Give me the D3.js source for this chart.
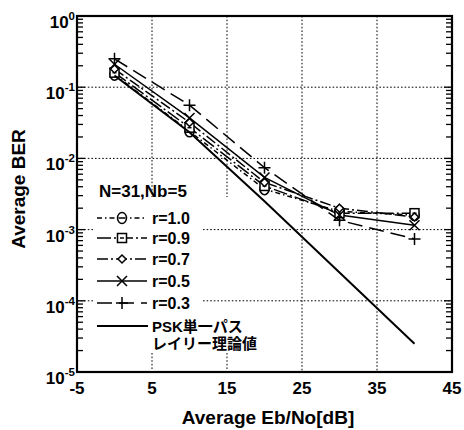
<!DOCTYPE html>
<html>
<head>
<meta charset="utf-8">
<script src="https://cdn.jsdelivr.net/npm/d3@7"></script>
<style>
  html, body { margin: 0; padding: 0; background: #fff; }
  svg { display: block; }
  text { font-family: "Liberation Sans", Arial, "Noto Sans CJK JP", sans-serif; font-weight: bold; fill: #000; }
</style>
</head>
<body>
<svg id="chart" width="464" height="430"></svg>
<script>
// Eb/No sample points [dB]
const ebno = [0, 10, 20, 30, 40];

// Average BER per correlation coefficient r
const ber_r10 = [0.150, 0.024, 0.0037, 0.0018, 0.0016];
const ber_r09 = [0.160, 0.027, 0.0041, 0.0017, 0.0017];
const ber_r07 = [0.180, 0.032, 0.0046, 0.0020, 0.0015];
const ber_r05 = [0.210, 0.037, 0.0054, 0.0016, 0.00115];
const ber_r03 = [0.250, 0.056, 0.0074, 0.00135, 0.00074];

// Single-path Rayleigh PSK theory
const ber_theory = [0.146, 0.0233, 0.0025, 0.00025, 0.000025];

const seriesLabels = ["r=1.0", "r=0.9", "r=0.7", "r=0.5", "r=0.3"];
const theoryLabel = ["PSK単一パス", "レイリー理論値"];
const annotation = "N=31,Nb=5";

const xTicks = [-5, 5, 15, 25, 35, 45];
const yExponents = [0, -1, -2, -3, -4, -5];

const xTitle = "Average Eb/No[dB]";
const yTitle = "Average BER";

// ---- layout ----
const L = 77, R = 452, T = 16, B = 372;
const svg = d3.select("#chart");
const x = d3.scaleLinear().domain([-5, 45]).range([L, R]);
const y = d3.scaleLog().domain([1e-5, 1]).range([B, T]);

// legend block (gridlines are interrupted behind it)
const legX0 = 97, legX1 = 147, legMark = 122, legText = 152;
const legRows = [218, 238, 259, 281, 303];
const legTheoryRow = 326;

// ---- grid ----
const grid = svg.append("g").attr("stroke", "#000").attr("stroke-width", 1)
  .attr("stroke-dasharray", "1.6,2").attr("fill", "none");
[5, 15, 25, 35].forEach(v => {
  const px = x(v);
  const gaps = (v === 5 || v === 15) ? [[T, 197], [353, B]] : [[T, B]];
  gaps.forEach(([a, b]) => grid.append("line").attr("x1", px).attr("x2", px).attr("y1", a).attr("y2", b));
});
[-1, -2, -3, -4].forEach(e => {
  const py = y(Math.pow(10, e));
  const segs = (py > 197 && py < 353) ? [[L, 95], [203, R]] : [[L, R]];
  segs.forEach(([a, b]) => grid.append("line").attr("x1", a).attr("x2", b).attr("y1", py).attr("y2", py));
});

// ---- log minor ticks on left and right axes (inward) ----
const ticks = svg.append("g").attr("stroke", "#000").attr("stroke-width", 1.3);
for (let e = -5; e < 0; e++) {
  for (let k = 1; k <= 9; k++) {
    const v = k * Math.pow(10, e);
    const py = y(v);
    const len = k === 1 ? 8 : 6;
    ticks.append("line").attr("x1", L).attr("x2", L + len).attr("y1", py).attr("y2", py);
    ticks.append("line").attr("x1", R).attr("x2", R - len).attr("y1", py).attr("y2", py);
  }
}

// ---- frame ----
svg.append("rect").attr("x", L).attr("y", T).attr("width", R - L).attr("height", B - T)
  .attr("fill", "none").attr("stroke", "#000").attr("stroke-width", 2.2);

// ---- series ----
const series = [
  { vals: ber_r10, dash: "5,3,1.5,3", marker: "circle" },
  { vals: ber_r09, dash: "14,3,2,3", marker: "square" },
  { vals: ber_r07, dash: "11,3,2,3", marker: "diamond" },
  { vals: ber_r05, dash: null, marker: "x" },
  { vals: ber_r03, dash: "15,7", marker: "plus" }
];

const line = d3.line().x(d => x(d[0])).y(d => y(d[1]));
const plot = svg.append("g");

function drawMarker(g, type, cx, cy) {
  const m = g.append("g").attr("transform", `translate(${cx},${cy})`)
    .attr("stroke", "#000").attr("stroke-width", 1.5).attr("fill", "#fff");
  if (type === "circle") {
    m.append("ellipse").attr("rx", 4.5).attr("ry", 5.5);
    m.append("line").attr("x1", -3.5).attr("x2", 3.5).attr("y1", 0).attr("y2", 0);
  } else if (type === "square") {
    m.append("rect").attr("x", -4.5).attr("y", -4.5).attr("width", 9).attr("height", 9);
    m.append("line").attr("x1", -2).attr("x2", 2).attr("y1", 0).attr("y2", 0);
  } else if (type === "diamond") {
    m.append("path").attr("d", "M0,-4L4,0L0,4L-4,0Z");
  } else if (type === "x") {
    m.append("path").attr("d", "M-5,-5L5,5M-5,5L5,-5").attr("fill", "none");
  } else if (type === "plus") {
    m.append("path").attr("d", "M-6,0L6,0M0,-6L0,6").attr("fill", "none");
  }
}

series.forEach(s => {
  const pts = ebno.map((e, i) => [e, s.vals[i]]);
  plot.append("path").datum(pts).attr("d", line)
    .attr("fill", "none").attr("stroke", "#000").attr("stroke-width", 1.5)
    .attr("stroke-dasharray", s.dash);
});
series.forEach(s => {
  ebno.forEach((e, i) => drawMarker(plot, s.marker, x(e), y(s.vals[i])));
});

// theory curve
plot.append("path").datum(ebno.map((e, i) => [e, ber_theory[i]])).attr("d", line)
  .attr("fill", "none").attr("stroke", "#000").attr("stroke-width", 2);

// ---- legend ----
const leg = svg.append("g");
leg.append("text").attr("x", 99).attr("y", 197).attr("font-size", 17).text(annotation);
series.forEach((s, i) => {
  const ry = legRows[i];
  leg.append("line").attr("x1", legX0).attr("x2", legX1).attr("y1", ry).attr("y2", ry)
    .attr("stroke", "#000").attr("stroke-width", 1.5).attr("stroke-dasharray", s.dash);
  drawMarker(leg, s.marker, legMark, ry);
  leg.append("text").attr("x", legText).attr("y", ry + 6).attr("font-size", 16).text(seriesLabels[i]);
});
leg.append("line").attr("x1", legX0).attr("x2", 148).attr("y1", legTheoryRow).attr("y2", legTheoryRow)
  .attr("stroke", "#000").attr("stroke-width", 2);
leg.append("text").attr("x", legText).attr("y", legTheoryRow + 5.5).attr("font-size", 15).text(theoryLabel[0]);
leg.append("text").attr("x", legText).attr("y", legTheoryRow + 23).attr("font-size", 15).text(theoryLabel[1]);

// ---- axis labels ----
const axis = svg.append("g");
xTicks.forEach(v => {
  axis.append("text").attr("x", x(v)).attr("y", 394).attr("text-anchor", "middle")
    .attr("font-size", 17).text(v);
});
yExponents.forEach(e => {
  const py = y(Math.pow(10, e));
  const t = axis.append("text").attr("x", 75).attr("y", py + 12).attr("text-anchor", "end").attr("font-size", 17);
  t.append("tspan").text("10");
  t.append("tspan").attr("dy", -8).attr("font-size", 11.5).text(e);
});

axis.append("text").attr("x", 268).attr("y", 424).attr("text-anchor", "middle")
  .attr("font-size", 19).text(xTitle);
axis.append("text").attr("transform", "translate(25,189) rotate(-90)").attr("text-anchor", "middle")
  .attr("font-size", 19).text(yTitle);
</script>
</body>
</html>
